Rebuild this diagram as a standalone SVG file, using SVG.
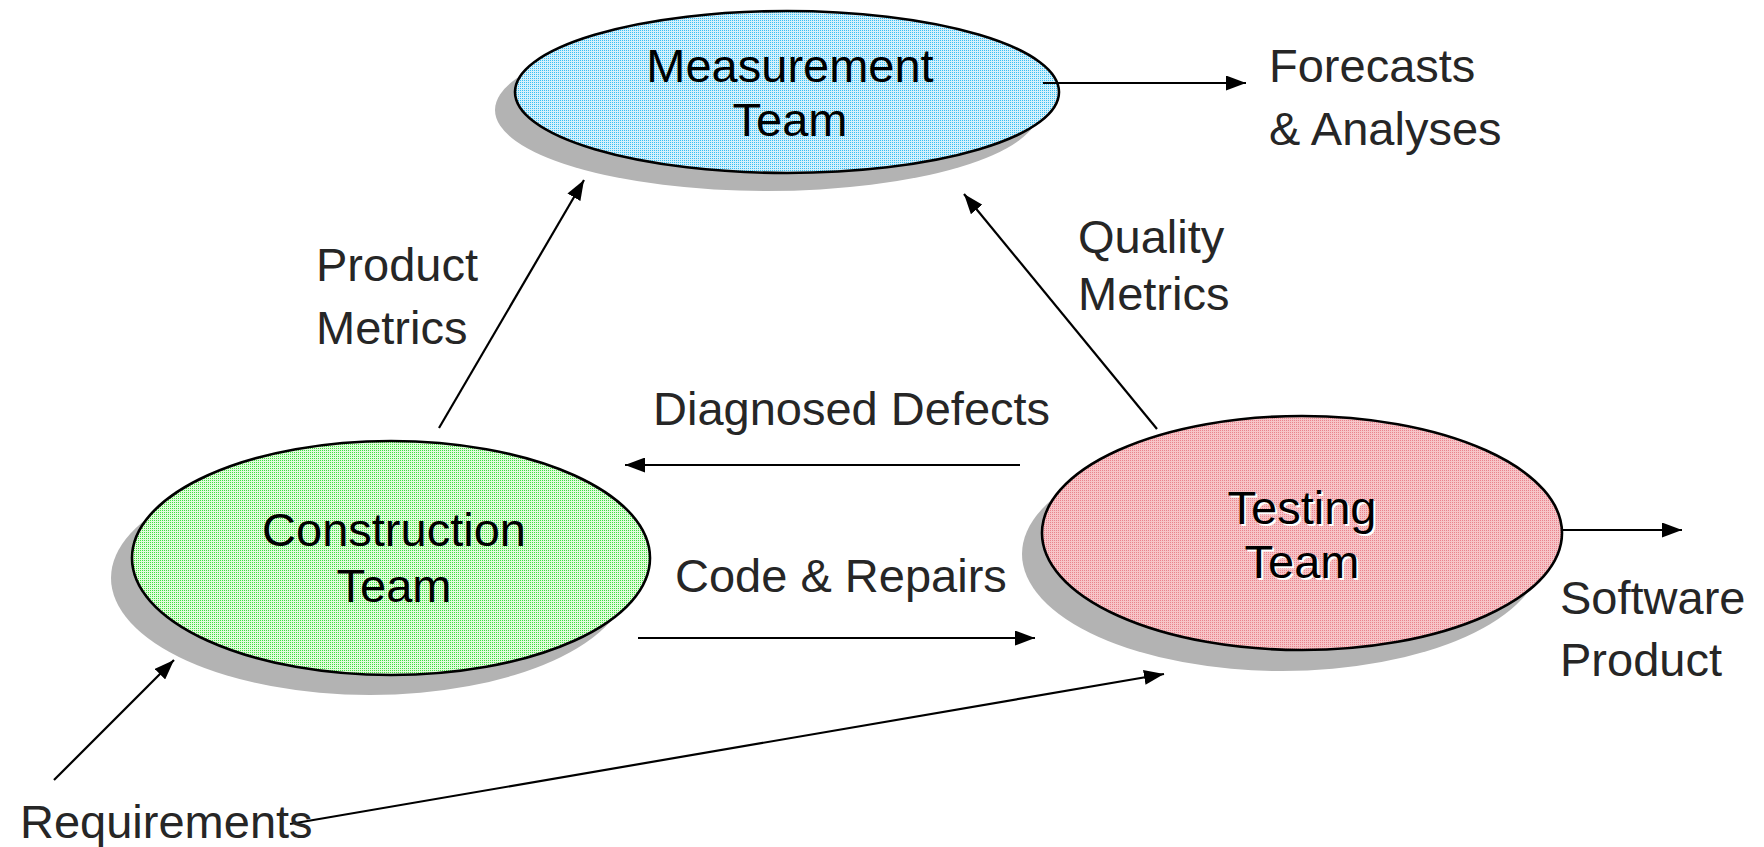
<svg xmlns="http://www.w3.org/2000/svg" width="1764" height="847" viewBox="0 0 1764 847">
  <style>
    .shadow { fill: #b3b3b3; stroke: none; }
    .node { stroke: #000; stroke-width: 2.6; }
    .ntext { font-family: "Liberation Sans", Arial, sans-serif; font-size: 47px; fill: #000; text-anchor: middle; }
    .ntext-hl { font-family: "Liberation Sans", Arial, sans-serif; font-size: 47px; fill: #fff; text-anchor: middle; }
    .label { font-family: "Liberation Sans", Arial, sans-serif; font-size: 47px; fill: #262626; }
    .edge { stroke: #000; stroke-width: 2.2; fill: none; marker-end: url(#arrow); }
  </style>
  <defs>
    <marker id="arrow" markerUnits="userSpaceOnUse" markerWidth="21" markerHeight="15" refX="20" refY="7.5" orient="auto">
      <path d="M0,0 L20,7.5 L0,15 z" fill="#000"/>
    </marker>
    <!-- dithered fills: light base with a 1px dot on a 2px grid -->
    <pattern id="dotBlue" patternUnits="userSpaceOnUse" width="2" height="2">
      <rect width="2" height="2" fill="#d4f0fc"/>
      <rect width="1" height="1" fill="#36c0f2"/>
    </pattern>
    <pattern id="dotGreen" patternUnits="userSpaceOnUse" width="2" height="2">
      <rect width="2" height="2" fill="#e0fcda"/>
      <rect width="1" height="1" fill="#40de40"/>
    </pattern>
    <pattern id="dotPink" patternUnits="userSpaceOnUse" width="2" height="2">
      <rect width="2" height="2" fill="#f7c4c8"/>
      <rect width="1" height="1" fill="#e8848c"/>
    </pattern>
  </defs>

  <rect width="1764" height="847" fill="#fff"/>

  <!-- Measurement Team -->
  <g id="measurement">
    <ellipse class="shadow" cx="767" cy="110" rx="272" ry="81"/>
    <ellipse class="node" cx="787" cy="92" rx="272" ry="81" fill="url(#dotBlue)"/>
    <text class="ntext" x="790" y="82">Measurement</text>
    <text class="ntext" x="790" y="136">Team</text>
  </g>

  <!-- Construction Team -->
  <g id="construction">
    <ellipse class="shadow" cx="370" cy="578" rx="259" ry="117"/>
    <ellipse class="node" cx="391" cy="558" rx="259" ry="117" fill="url(#dotGreen)"/>
    <text class="ntext" x="394" y="546">Construction</text>
    <text class="ntext" x="394" y="602">Team</text>
  </g>

  <!-- Testing Team -->
  <g id="testing">
    <ellipse class="shadow" cx="1282" cy="554" rx="260" ry="117"/>
    <ellipse class="node" cx="1302" cy="533" rx="260" ry="117" fill="url(#dotPink)"/>
    <text class="ntext-hl" x="1304" y="526">Testing</text>
    <text class="ntext-hl" x="1304" y="580">Team</text>
    <text class="ntext" x="1302" y="524">Testing</text>
    <text class="ntext" x="1302" y="578">Team</text>
  </g>

  <!-- flows between teams -->
  <g id="connectors">
    <line class="edge" x1="1043" y1="83" x2="1246" y2="83"/>
    <line class="edge" x1="439" y1="428" x2="584" y2="180"/>
    <line class="edge" x1="1157" y1="429" x2="964" y2="194"/>
    <line class="edge" x1="1020" y1="465" x2="625" y2="465"/>
    <line class="edge" x1="638" y1="638" x2="1035" y2="638"/>
    <line class="edge" x1="1561" y1="530" x2="1682" y2="530"/>
    <line class="edge" x1="54" y1="780" x2="174" y2="660"/>
    <line class="edge" x1="290" y1="824" x2="1164" y2="674"/>
  </g>

  <!-- flow labels -->
  <g id="labels">
    <text class="label" x="1269" y="82">Forecasts</text>
    <text class="label" x="1269" y="145">&amp; Analyses</text>
    <text class="label" x="316" y="281">Product</text>
    <text class="label" x="316" y="344">Metrics</text>
    <text class="label" x="1078" y="253">Quality</text>
    <text class="label" x="1078" y="310">Metrics</text>
    <text class="label" x="653" y="425">Diagnosed Defects</text>
    <text class="label" x="675" y="592">Code &amp; Repairs</text>
    <text class="label" x="1560" y="614">Software</text>
    <text class="label" x="1560" y="676">Product</text>
    <text class="label" x="20" y="838">Requirements</text>
  </g>
</svg>
